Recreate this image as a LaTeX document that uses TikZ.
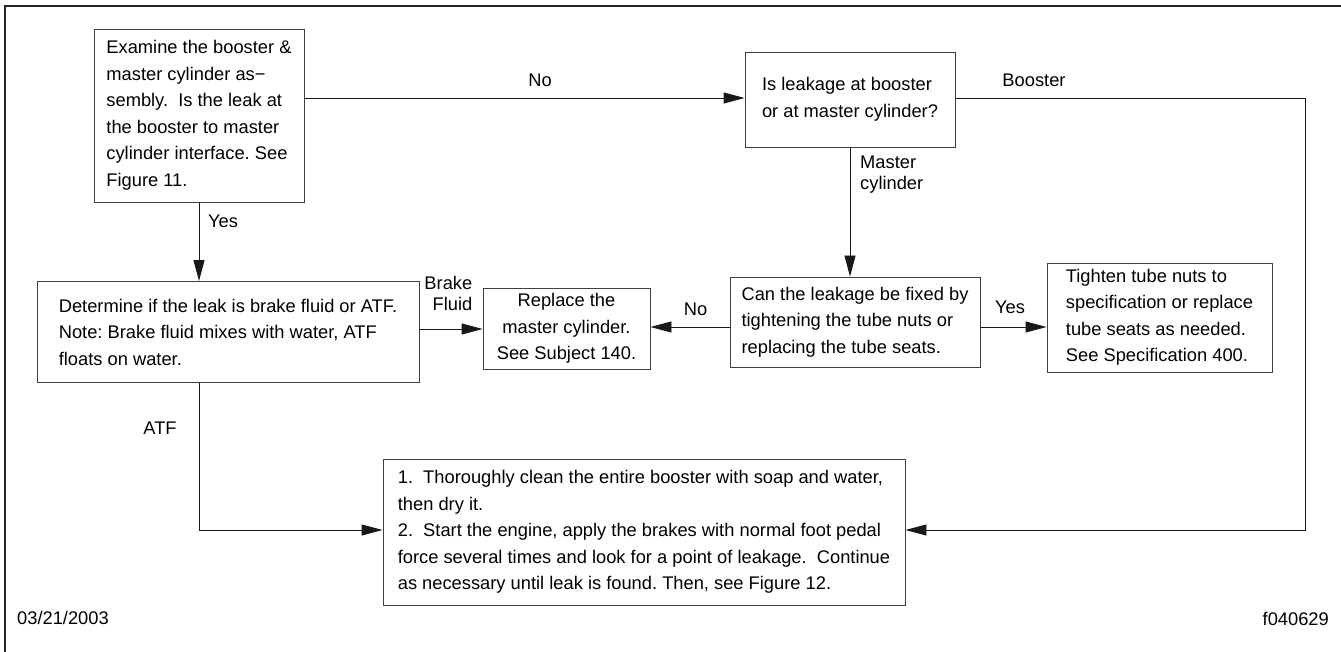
\documentclass[tikz,border=0pt]{standalone}
\usepackage{fontspec}
\setmainfont{Liberation Sans}
\usetikzlibrary{arrows.meta}
\frenchspacing
\begin{document}
\begin{tikzpicture}[x=1pt,y=-1pt,
  box/.style={draw=black!75, line width=0.9pt, rectangle, inner sep=0pt,
    font=\fontsize{18.3}{26.5}\selectfont},
  lbl/.style={inner sep=0pt, font=\fontsize{18.3}{21}\selectfont},
  flow/.style={draw=black!90, line width=0.9pt, -{Triangle[length=21pt,width=11pt]}},
]
\useasboundingbox (0,0) rectangle (1341,652);
% page frame
\draw[line width=1.4pt, black!85] (5,652) -- (5,6) -- (1341,6);

% process boxes
\node[box, minimum width=210pt, minimum height=173pt, align=left] (exam) at (199,115.5)
  {Examine the booster \&\\
   master cylinder as−\\
   sembly.\ \ Is the leak at\\
   the booster to master\\
   cylinder interface. See\\
   Figure 11.};
\node[box, minimum width=210pt, minimum height=95pt, align=left] (where) at (850,99.5)
  {Is leakage at booster\\or at master cylinder?};
\node[box, minimum width=382pt, minimum height=101pt, align=left] (det) at (228,332)
  {Determine if the leak is brake fluid or ATF.\\
   Note: Brake fluid mixes with water, ATF\\
   floats on water.};
\node[box, minimum width=167pt, minimum height=81pt, align=center] (repl) at (566.5,328.5)
  {Replace the\\master cylinder.\\See Subject 140.};
\node[box, minimum width=250pt, minimum height=90pt, align=left] (fix) at (855,322)
  {Can the leakage be fixed by\\
   tightening the tube nuts or\\
   replacing the tube seats.};
\node[box, minimum width=225pt, minimum height=109pt, align=left] (tight) at (1159.5,317.5)
  {Tighten tube nuts to\\
   specification or replace\\
   tube seats as needed.\\
   See Specification 400.};
\node[box, minimum width=522pt, minimum height=146pt, align=left] (clean) at (644,532)
  {1.\ \ Thoroughly clean the entire booster with soap and water,\\
   then dry it.\\
   2.\ \ Start the engine, apply the brakes with normal foot pedal\\
   force several times and look for a point of leakage.\ \ Continue\\
   as necessary until leak is found. Then, see Figure 12.};

% connector levels
\coordinate (ytop) at (0,98);
\coordinate (ymid) at (0,327);
\coordinate (yfluid) at (0,329);
\coordinate (ybot) at (0,530);
\coordinate (rcol) at (1305,0);

% connectors
\draw[flow] (exam.south) -- (exam.south |- det.north);
\draw[flow] (exam.east |- ytop) -- (where.west |- ytop);
\draw[flow] (where.south) -- (where.south |- fix.north);
\draw[flow] (where.east |- ytop) -| (rcol |- ybot) -- (clean.east |- ybot);
\draw[flow] (fix.west |- ymid) -- (repl.east |- ymid);
\draw[flow] (fix.east |- ymid) -- (tight.west |- ymid);
\draw[flow] (det.east |- yfluid) -- (repl.west |- yfluid);
\draw[flow] (det.south -| exam.south) |- (clean.west |- ybot);

% connector labels
\node[lbl, anchor=west] (lyes1) at (208,221) {Yes};
\node[lbl] (lno1) at (540,80) {No};
\node[lbl] (lbooster) at (1034,80) {Booster};
\node[lbl, anchor=west, align=left] (lmaster) at (860,174.5) {Master\\cylinder};
\node[lbl, anchor=east, align=right] (lfluid) at (472.5,293) {Brake\\Fluid};
\node[lbl] (lno2) at (695.5,309) {No};
\node[lbl] (lyes2) at (1010,307) {Yes};
\node[lbl] (latf) at (160,428) {ATF};

% footer
\node[lbl, anchor=west] (date) at (17,618) {03/21/2003};
\node[lbl, anchor=east] (figid) at (1329,619) {f040629};
\end{tikzpicture}
\end{document}
